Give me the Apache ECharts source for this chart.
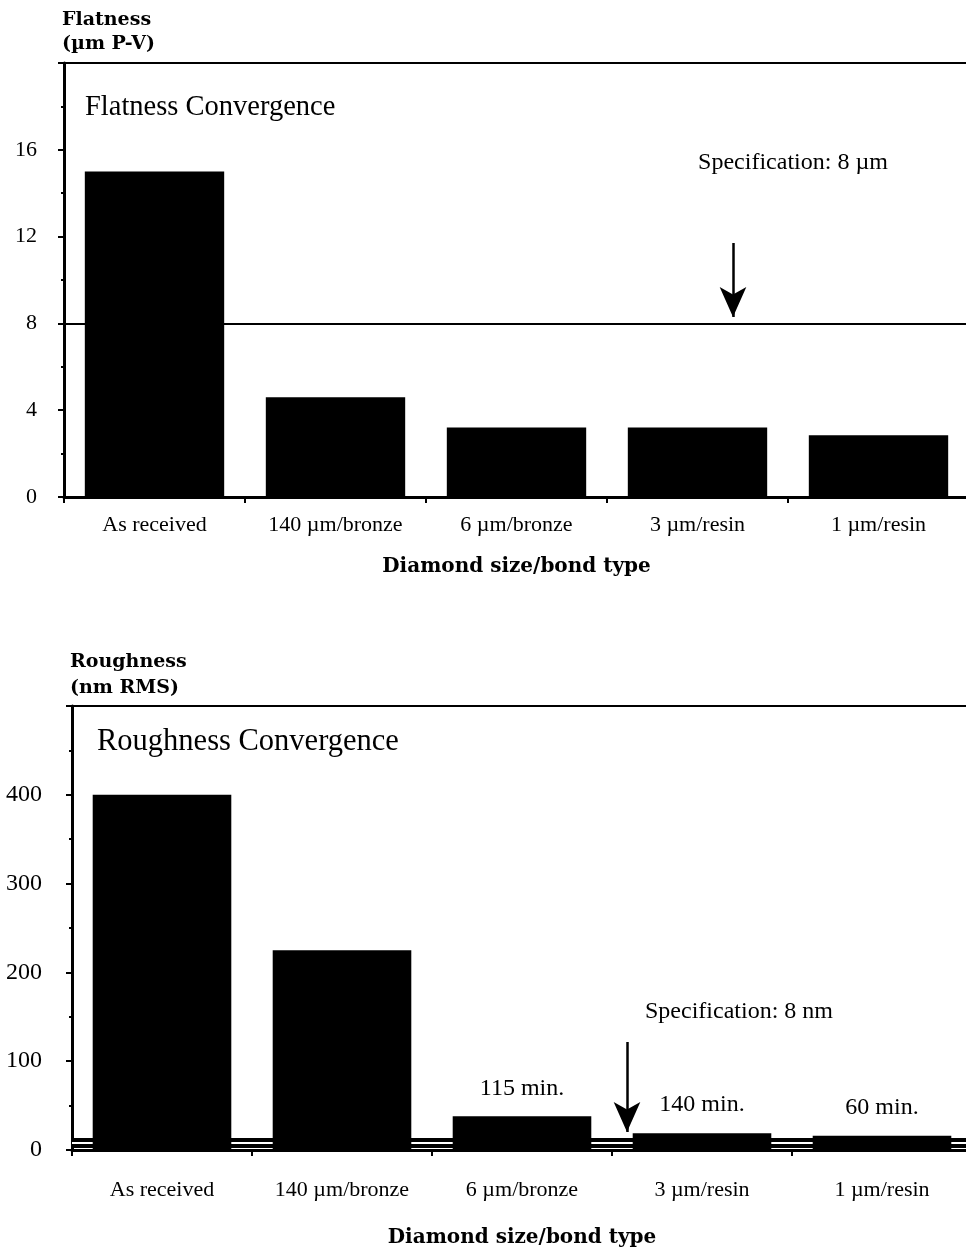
<!DOCTYPE html>
<html>
<head>
<meta charset="utf-8">
<script src="https://cdn.jsdelivr.net/npm/echarts@6/dist/echarts.min.js"></script>
<style>
html,body{margin:0;padding:0;background:#fff;overflow:hidden;}
#chart{width:966px;height:1250px;}
</style>
</head>
<body>
<div id="chart"></div>
<script>
// ---- data ----
const categories = ['As received', '140 µm/bronze', '6 µm/bronze', '3 µm/resin', '1 µm/resin'];
const flatness = [15, 4.6, 3.2, 3.2, 2.85];
const roughness = [400, 225, 38, 19, 16];
const roughnessNotes = ['', '', '115 min.', '140 min.', '60 min.'];
const flatnessSpec = 8;
const roughnessSpec = 8;
const flatnessAxis = [0, 20, 4];   // min, max, interval
const roughnessAxis = [0, 500, 100];

const SERIF = 'Liberation Serif';
const BOLD = 'DejaVu Serif';

const chart = echarts.init(document.getElementById('chart'), null, {renderer: 'canvas'});

function yAxisCfg(gridIndex, range, name, nameGap, lh, labelSize, labelMargin) {
  return {
    type: 'value', gridIndex, min: range[0], max: range[1], interval: range[2],
    name, nameLocation: 'end', nameGap,
    nameTextStyle: {fontFamily: BOLD, fontWeight: 'bold', fontSize: 19, color: '#000',
      align: 'left', verticalAlign: 'bottom', lineHeight: lh, padding: [0, 0, 0, -2]},
    axisLine: {show: true, lineStyle: {color: '#000', width: 3}},
    axisTick: {show: true, length: 6, lineStyle: {color: '#000', width: 2}},
    minorTick: {show: true, splitNumber: 2, length: 3, lineStyle: {color: '#000', width: 2}},
    axisLabel: {fontFamily: SERIF, fontSize: labelSize, color: '#000', margin: labelMargin, showMaxLabel: false},
    splitLine: {show: false}
  };
}
function xAxisCfg(gridIndex, labelMargin, nameGap) {
  return {
    type: 'category', gridIndex, data: categories, boundaryGap: true,
    name: 'Diamond size/bond type', nameLocation: 'middle', nameGap,
    nameTextStyle: {fontFamily: BOLD, fontWeight: 'bold', fontSize: 20, color: '#000'},
    axisLine: {show: true, lineStyle: {color: '#000', width: 3}},
    axisTick: {show: true, length: 6, alignWithLabel: false, lineStyle: {color: '#000', width: 2}},
    axisLabel: {fontFamily: SERIF, fontSize: 22, color: '#000', margin: labelMargin, interval: 0},
    splitLine: {show: false}
  };
}
function topLine(gridIndex) {
  return {
    type: 'value', gridIndex, position: 'top', min: 0, max: 1,
    axisLine: {show: true, onZero: false, lineStyle: {color: '#000', width: 2}},
    axisTick: {show: false}, axisLabel: {show: false}, splitLine: {show: false}
  };
}

const option = {
  backgroundColor: '#fff',
  animation: false,
  grid: [
    {left: 64, top: 63, width: 905, height: 434, containLabel: false, outerBoundsMode: 'none'},
    {left: 72, top: 706, width: 900, height: 444, containLabel: false, outerBoundsMode: 'none'}
  ],
  xAxis: [xAxisCfg(0, 17, 60), xAxisCfg(1, 29, 78), topLine(0), topLine(1)],
  yAxis: [
    yAxisCfg(0, flatnessAxis, 'Flatness\n(µm P-V)', 7, 24, 22, 27),
    yAxisCfg(1, roughnessAxis, 'Roughness\n(nm RMS)', 5, 26, 24, 30)
  ],
  series: [
    {
      type: 'bar', xAxisIndex: 0, yAxisIndex: 0, data: flatness, z: 3,
      barCategoryGap: '23%', itemStyle: {color: '#000'},
      markLine: {
        z: 1, silent: true, symbol: 'none', label: {show: false},
        data: [
          {yAxis: flatnessSpec, lineStyle: {color: '#000', width: 2, type: 'solid'}},
          [{x: 733, y: 243, symbol: 'none'},
           {x: 733, y: 317, symbol: 'arrow', symbolSize: [20, 30], lineStyle: {color: '#000', width: 2.5, type: 'solid'}}]
        ]
      }
    },
    {
      type: 'bar', xAxisIndex: 1, yAxisIndex: 1, data: roughness, z: 3,
      barCategoryGap: '23%', itemStyle: {color: '#000'},
      label: {show: true, position: 'top', distance: 16, fontFamily: SERIF, fontSize: 24, color: '#000',
        formatter: p => roughnessNotes[p.dataIndex]},
      markLine: {
        z: 1, silent: true, symbol: 'none', label: {show: false},
        data: [
          {yAxis: roughnessSpec, lineStyle: {color: '#000', width: 10, type: 'solid'}},
          {yAxis: roughnessSpec, lineStyle: {color: '#fff', width: 2, type: 'solid'}},
          [{x: 627, y: 1042, symbol: 'none'},
           {x: 627, y: 1132, symbol: 'arrow', symbolSize: [20, 30], lineStyle: {color: '#000', width: 2.5, type: 'solid'}}]
        ]
      }
    }
  ],
  graphic: [
    {type: 'text', x: 85, y: 108, style: {text: 'Flatness Convergence', font: '28.5px "Liberation Serif"', fill: '#000', verticalAlign: 'middle'}},
    {type: 'text', x: 793, y: 163, style: {text: 'Specification: 8 µm', font: '24px "Liberation Serif"', fill: '#000', align: 'center', verticalAlign: 'middle'}},
    {type: 'text', x: 97, y: 742, style: {text: 'Roughness Convergence', font: '30.5px "Liberation Serif"', fill: '#000', verticalAlign: 'middle'}},
    {type: 'text', x: 739, y: 1012, style: {text: 'Specification: 8 nm', font: '24px "Liberation Serif"', fill: '#000', align: 'center', verticalAlign: 'middle'}}
  ]
};
chart.setOption(option);
</script>
</body>
</html>
